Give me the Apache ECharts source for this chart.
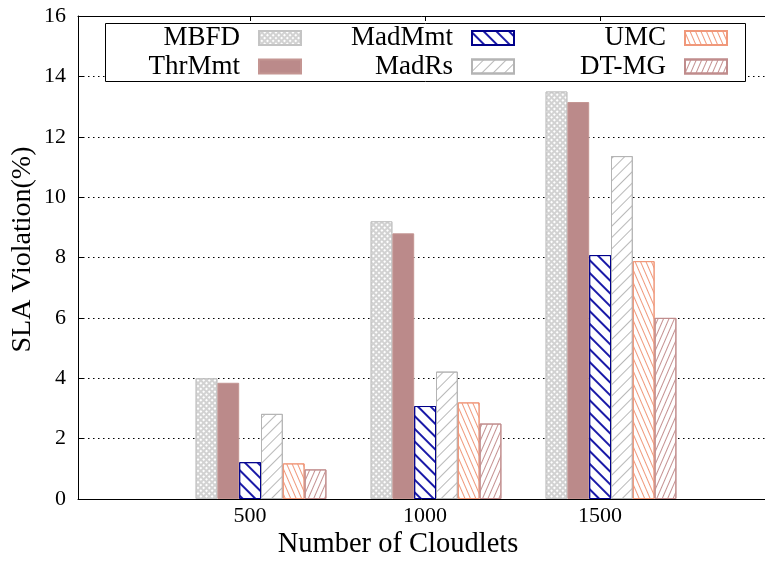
<!DOCTYPE html>
<html><head><meta charset="utf-8">
<script src="https://cdn.jsdelivr.net/npm/echarts@6/dist/echarts.min.js"></script>
<style>html,body{margin:0;padding:0;background:#fff}#c{width:765px;height:562px}</style>
</head><body><div id="c"></div>
<script>
const categories = ['500', '1000', '1500'];
const seriesNames = ['MBFD', 'ThrMmt', 'MadMmt', 'MadRs', 'UMC', 'DT-MG'];
const mbfd   = [4.0, 9.2, 13.5];
const thrMmt = [3.85, 8.8, 13.15];
const madMmt = [1.22, 3.08, 8.08];
const madRs  = [2.82, 4.22, 11.36];
const umc    = [1.18, 3.2, 7.88];
const dtmg   = [0.98, 2.5, 6.0];
const yMin = 0, yMax = 16, yStep = 2;
const xTitle = 'Number of Cloudlets';
const yTitle = 'SLA Violation(%)';

const FONT = 'Liberation Serif';
const values = [mbfd, thrMmt, madMmt, madRs, umc, dtmg];
const styles = [
  {color:'#d2d2d2', borderColor:'#c4c4c4', decal:{symbol:'rect', color:'#ffffff', dashArrayX:[2,1.2], dashArrayY:[2,1.2], rotation:Math.PI/4, symbolSize:1}},
  {color:'#bb8a8a', borderColor:'#c49592'},
  {color:'#ffffff', borderColor:'#00008b', decal:{symbol:'rect', color:'#1a1aa8', dashArrayX:[1,0], dashArrayY:[1.2,7], rotation:Math.PI/4, symbolSize:1}},
  {color:'#ffffff', borderColor:'#b4b4b4', decal:{symbol:'rect', color:'#b8b8b8', dashArrayX:[1,0], dashArrayY:[1,7], rotation:-Math.PI/4, symbolSize:1}},
  {color:'#ffffff', borderColor:'#f0987a', decal:{symbol:'rect', color:'#f0987a', dashArrayX:[1,0], dashArrayY:[1,3.5], rotation:Math.PI/2.7, symbolSize:1}},
  {color:'#ffffff', borderColor:'#c08c8c', decal:{symbol:'rect', color:'#c49090', dashArrayX:[1,0], dashArrayY:[1,3.5], rotation:-Math.PI/2.7, symbolSize:1}}
];

const legendRights = [463, 250, 37];
const legendTops = [24.5, 53];
const legends = seriesNames.map((n, i) => ({
  data: [n], right: legendRights[Math.floor(i/2)], top: legendTops[i%2],
  orient: 'horizontal', align: 'right', padding: 0, icon: 'rect',
  itemWidth: 42, itemHeight: 14, selectedMode: false,
  textStyle: {fontFamily: FONT, fontSize: 27, lineHeight: 26, color: '#000', padding: [0, 14, 0, 0]}
}));

const chart = echarts.init(document.getElementById('c'), null, {renderer: 'canvas'});
chart.setOption({
  animation: false,
  backgroundColor: '#fff',
  textStyle: {fontFamily: FONT},
  legend: legends,
  graphic: [{type:'rect', shape:{x:105.5, y:23.5, width:640, height:58}, style:{fill:'#fff', stroke:'#000', lineWidth:1}, z:3}],
  grid: [
    {left: 78, right: -20, top: 16, bottom: 63, show: false, outerBoundsMode: 'none', containLabel: false},
    {left: 173.5, right: 66.5, top: 16, bottom: 63, outerBoundsMode: 'none', containLabel: false}
  ],
  xAxis: [
    {type: 'value', gridIndex: 0, min: 0.0171, max: 4.0571,
     axisLine: {show: true, lineStyle: {color: '#000', width: 1}},
     axisTick: {show: true, inside: true, length: 5, customValues: [1,2,3], lineStyle: {color: '#000'}},
     axisLabel: {show: true, customValues: [1,2,3], formatter: v => categories[Math.round(v)-1], fontFamily: FONT, fontSize: 22, color: '#000', margin: 6},
     splitLine: {show: false},
     name: xTitle, nameLocation: 'middle', nameGap: 31, nameMoveOverlap: false,
     nameTextStyle: {fontFamily: FONT, fontSize: 28.5, color: '#000', padding: [0, 67, 0, 0]}},
    {type: 'value', gridIndex: 0, position: 'top', min: 0.0171, max: 4.0571,
     axisLine: {show: true, lineStyle: {color: '#000', width: 1}},
     axisTick: {show: true, inside: true, length: 5, customValues: [1,2,3], lineStyle: {color: '#000'}},
     axisLabel: {show: false}, splitLine: {show: false}},
    {type: 'category', gridIndex: 1, data: categories, show: false}
  ],
  yAxis: [
    {type: 'value', gridIndex: 0, min: yMin, max: yMax, interval: yStep,
     axisLine: {show: true, lineStyle: {color: '#000'}},
     axisTick: {show: true, inside: true, length: 6, lineStyle: {color: '#000'}},
     axisLabel: {fontFamily: FONT, fontSize: 22, color: '#000', margin: 12},
     splitLine: {show: true, lineStyle: {color: '#000', width: 1, type: [1.5, 3.5]}},
     name: yTitle, nameLocation: 'middle', nameGap: 41, nameMoveOverlap: false,
     nameTextStyle: {fontFamily: FONT, fontSize: 28, color: '#000', padding: [0, 0, 0, 16]}},
    {type: 'value', gridIndex: 1, min: yMin, max: yMax, show: false, splitLine: {show: false}}
  ],
  series: seriesNames.map((n, i) => ({
    name: n, type: 'bar', xAxisIndex: 2, yAxisIndex: 1,
    data: values[i], barWidth: 21.8, barGap: '0%',
    itemStyle: Object.assign({borderWidth: 1}, styles[i]),
    emphasis: {disabled: true}, z: 2
  }))
});
</script></body></html>
